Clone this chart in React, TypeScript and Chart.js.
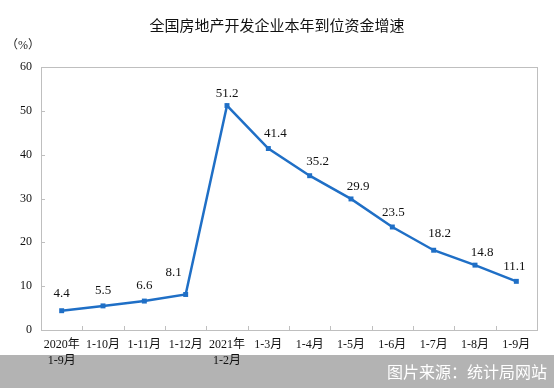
import React, { useEffect, useRef } from "react";
import { Chart, registerables } from "chart.js";

Chart.register(...registerables);

const categories: (string | string[])[] = [
  ["2020年", "1-9月"], "1-10月", "1-11月", "1-12月", ["2021年", "1-2月"],
  "1-3月", "1-4月", "1-5月", "1-6月", "1-7月", "1-8月", "1-9月",
];
const growth = [4.4, 5.5, 6.6, 8.1, 51.2, 41.4, 35.2, 29.9, 23.5, 18.2, 14.8, 11.1];
const yTicks = [0, 10, 20, 30, 40, 50, 60];
const labelNudgeX = [0, 0, 0, -12, 0, 7, 8, 7, 1, 6, 7, -2];
const labelNudgeY = [-17, -15, -15, -22, -12, -15, -14, -12, -14, -17, -13, -15];

const TITLE = "全国房地产开发企业本年到位资金增速";
const SOURCE = "图片来源：统计局网站";
const SERIF = "'Liberation Serif', 'Noto Sans CJK SC', serif";
const BLUE = "#1f6fc6";

const decorPlugin = {
  id: "decor",
  beforeDraw(chart: any) {
    const { ctx, width, height } = chart;
    ctx.save();
    ctx.fillStyle = "#ffffff";
    ctx.fillRect(0, 0, width, height);
    ctx.fillStyle = "#b3b3b3";
    ctx.fillRect(0, 355, width, height - 355);
    ctx.fillStyle = "#ffffff";
    ctx.font = "16px 'Noto Sans CJK SC', sans-serif";
    ctx.textAlign = "right";
    ctx.textBaseline = "middle";
    ctx.fillText(SOURCE, 547, 372);
    // title
    ctx.fillStyle = "#111111";
    ctx.font = "15px 'Noto Sans CJK SC', sans-serif";
    ctx.textAlign = "center";
    ctx.fillText(TITLE, 277, 25);
    ctx.font = "12px " + SERIF;
    ctx.textAlign = "left";
    ctx.fillStyle = "#222222";
    ctx.fillText("（%）", 6, 46);
    ctx.restore();
  },
  afterDatasetsDraw(chart: any) {
    const { ctx, chartArea } = chart;
    const { left, right, top, bottom } = chartArea;
    ctx.save();
    ctx.strokeStyle = "#bfbfbf";
    ctx.lineWidth = 1;
    ctx.strokeRect(left + 0.5, top + 0.5, right - left, bottom - top);
    const xs = chart.scales.x;
    const ys = chart.scales.y;
    ctx.beginPath();
    for (let i = 1; i < categories.length; i++) {
      const x = Math.round((xs.getPixelForValue(i - 1) + xs.getPixelForValue(i)) / 2) + 0.5;
      ctx.moveTo(x, bottom);
      ctx.lineTo(x, bottom - 4);
    }
    yTicks.forEach((v) => {
      if (v === 0 || v === 60) return;
      const y = Math.round(ys.getPixelForValue(v)) + 0.5;
      ctx.moveTo(left, y);
      ctx.lineTo(left + 4, y);
    });
    ctx.stroke();
    // data labels
    const meta = chart.getDatasetMeta(0);
    ctx.fillStyle = "#111111";
    ctx.font = "13px " + SERIF;
    ctx.textAlign = "center";
    ctx.textBaseline = "middle";
    meta.data.forEach((pt: any, i: number) => {
      ctx.fillText(growth[i].toFixed(1), pt.x + labelNudgeX[i], pt.y + labelNudgeY[i]);
    });
    ctx.restore();
  },
};

export default function App() {
  const ref = useRef<HTMLCanvasElement | null>(null);
  useEffect(() => {
    if (!ref.current) return;
    const chart = new Chart(ref.current, {
      type: "line",
      data: {
        labels: categories,
        datasets: [
          {
            data: growth,
            borderColor: BLUE,
            backgroundColor: BLUE,
            borderWidth: 2.5,
            pointStyle: "rect",
            pointRadius: 3.5,
            pointBorderWidth: 0,
            tension: 0,
          },
        ],
      },
      options: {
        responsive: false,
        animation: false,
        devicePixelRatio: 1,
        layout: { padding: { left: 0, right: 17, top: 67, bottom: 0 } },
        plugins: { legend: { display: false }, title: { display: false }, tooltip: { enabled: false } },
        scales: {
          x: {
            offset: true,
            grid: { display: false, drawTicks: false },
            border: { display: false },
            ticks: {
              color: "#111111",
              font: { family: SERIF, size: 12, lineHeight: 1.4 },
              padding: 6,
              maxRotation: 0,
              autoSkip: false,
            },
            afterFit: (s: any) => { s.height = 58; },
          },
          y: {
            min: 0,
            max: 60,
            grid: { display: false, drawTicks: false },
            border: { display: false },
            afterBuildTicks: (s: any) => { s.ticks = yTicks.map((v) => ({ value: v })); },
            ticks: {
              color: "#111111",
              font: { family: SERIF, size: 12 },
              padding: 9,
            },
            afterFit: (s: any) => { s.width = 41; },
          },
        },
      },
      plugins: [decorPlugin],
    });
    return () => chart.destroy();
  }, []);
  return (
    <div style={{ position: "absolute", left: 0, top: 0, width: 554, height: 388 }}>
      <canvas ref={ref} width={554} height={388} style={{ display: "block", width: 554, height: 388 }} />
    </div>
  );
}
